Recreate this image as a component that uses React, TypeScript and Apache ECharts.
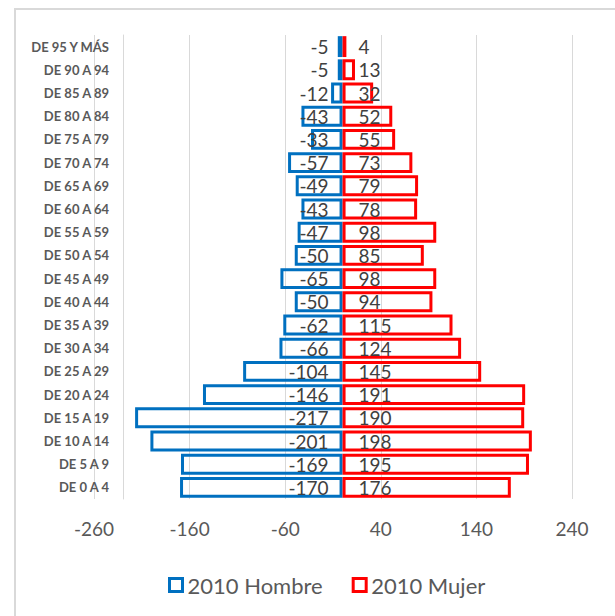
import React, { useEffect, useRef } from "react";
import * as echarts from "echarts";

const ageGroups = [
  "DE 0 A 4", "DE 5 A 9", "DE 10 A 14", "DE 15 A 19", "DE 20 A 24",
  "DE 25 A 29", "DE 30 A 34", "DE 35 A 39", "DE 40 A 44", "DE 45 A 49",
  "DE 50 A 54", "DE 55 A 59", "DE 60 A 64", "DE 65 A 69", "DE 70 A 74",
  "DE 75 A 79", "DE 80 A 84", "DE 85 A 89", "DE 90 A 94", "DE 95 Y MÁS",
];
const hombre2010 = [-170, -169, -201, -217, -146, -104, -66, -62, -50, -65, -50, -47, -43, -49, -57, -33, -43, -12, -5, -5];
const mujer2010 = [176, 195, 198, 190, 191, 145, 124, 115, 94, 98, 85, 98, 78, 79, 73, 55, 52, 32, 13, 4];
const seriesNames = ["2010 Hombre", "2010 Mujer"];
const xMin = -260;
const xMax = 240;
const xStep = 100;

const BLUE = "#0070C0";
const RED = "#FF0000";
const GRID_GRAY = "#d9d9d9";
const FONT = "Lato, 'Noto Sans', sans-serif";

export default function App() {
  const ref = useRef<HTMLDivElement>(null);
  useEffect(() => {
    if (!ref.current) return;
    const chart = echarts.init(ref.current, undefined, { renderer: "svg" });
    const labelBase = {
      show: true,
      color: "#404040",
      fontSize: 19,
      fontFamily: FONT,
      textBorderWidth: 0,
    };
    chart.setOption({
      animation: false,
      backgroundColor: "#ffffff",
      textStyle: { fontFamily: FONT },
      graphic: [
        {
          type: "rect",
          shape: { x: 15, y: 9, width: 800, height: 800 },
          style: { fill: "none", stroke: GRID_GRAY, lineWidth: 2 },
          silent: true,
        },
      ],
      grid: { left: 94, right: 43, top: 35, bottom: 117, containLabel: false },
      legend: {
        left: 163,
        top: 569,
        itemWidth: 13,
        itemHeight: 13,
        itemGap: 29,
        icon: "rect",
        textStyle: { fontSize: 22, color: "#595959", fontFamily: FONT, lineHeight: 22 },
        data: [
          { name: seriesNames[0], itemStyle: { color: "transparent", borderColor: BLUE, borderWidth: 3 } },
          { name: seriesNames[1], itemStyle: { color: "transparent", borderColor: RED, borderWidth: 3 } },
        ],
      },
      xAxis: {
        type: "value",
        min: xMin,
        max: xMax,
        interval: xStep,
        axisLine: { show: false },
        axisTick: { show: false },
        splitLine: { show: true, showMinLine: true, showMaxLine: true, lineStyle: { color: GRID_GRAY, width: 1 } },
        axisLabel: { color: "#595959", fontSize: 19, fontFamily: FONT, margin: 20 },
      },
      yAxis: {
        type: "category",
        data: ageGroups,
        offset: -29,
        axisLine: { show: true, onZero: false, lineStyle: { color: GRID_GRAY, width: 1 } },
        axisTick: { show: false },
        axisLabel: { color: "#595959", fontSize: 13, fontWeight: "bold", fontFamily: FONT, margin: 14 },
      },
      series: [
        {
          name: seriesNames[0],
          type: "bar",
          stack: "pop",
          data: hombre2010,
          barCategoryGap: "10%",
          itemStyle: { color: "transparent", borderColor: BLUE, borderWidth: 3 },
          label: { ...labelBase, position: "insideRight", distance: 14 },
        },
        {
          name: seriesNames[1],
          type: "bar",
          stack: "pop",
          data: mujer2010,
          barCategoryGap: "10%",
          itemStyle: { color: "transparent", borderColor: RED, borderWidth: 3 },
          label: { ...labelBase, position: "insideLeft", distance: 16 },
        },
      ],
    });
    return () => chart.dispose();
  }, []);
  return (
    <div
      ref={ref}
      style={{ position: "fixed", left: 0, top: 0, width: 615, height: 616 }}
    />
  );
}
